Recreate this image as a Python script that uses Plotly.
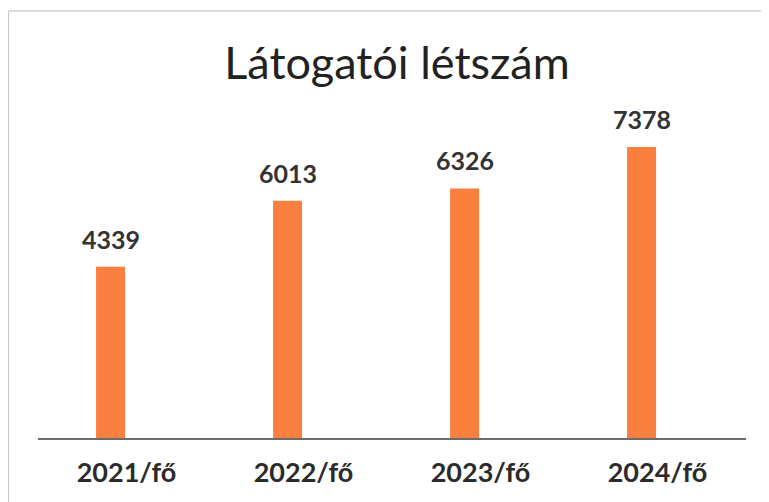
import plotly.graph_objects as go

categories = ["2021/fő", "2022/fő", "2023/fő", "2024/fő"]
values = [4339, 6013, 6326, 7378]
title_text = "Látogatói létszám"

# page body has an 8px margin, so figure coords are shifted by 8px
W, H = 769, 502
L, T = 30, 102
pw, ph = 708, 328
R = W - L - pw
B = H - T - ph

BAR_OFFSET, BAR_WIDTH = -0.172, 0.164
band_px = pw / len(categories)
label_shift = (BAR_OFFSET + BAR_WIDTH / 2) * band_px

fig = go.Figure(go.Bar(
    x=categories, y=values,
    marker=dict(color="#F9803F", line=dict(width=0)),
    width=BAR_WIDTH, offset=BAR_OFFSET,
    hoverinfo="x+y",
))

for c, v in zip(categories, values):
    fig.add_annotation(x=c, y=v, text=str(v), showarrow=False, yanchor="bottom",
                       xshift=label_shift, yshift=11,
                       font=dict(family="Lato", size=25, color="#333333", weight="bold"))

def px_x(x):
    return (x - L) / pw

def px_y(y):
    return (T + ph - y) / ph

fig.update_layout(
    width=W, height=H,
    margin=dict(l=L, r=R, t=T, b=B),
    paper_bgcolor="white", plot_bgcolor="white",
    title=dict(text=title_text, x=389 / W, xanchor="center", y=1 - 55 / H, yanchor="middle",
               font=dict(family="Lato", size=45, color="#222222")),
    showlegend=False,
    xaxis=dict(showgrid=False, showline=True, linecolor="#6b6b6b", linewidth=1.5,
               ticks="", tickfont=dict(family="Lato", size=27, color="#2b2b2b", weight="bold"),
               ticklabelstandoff=10),
    yaxis=dict(range=[0, 8316], visible=False),
    shapes=[
        dict(type="line", xref="paper", yref="paper", x0=px_x(0), x1=px_x(0), y0=px_y(3), y1=px_y(510),
             line=dict(color="#b5b5b5", width=1.5)),
        dict(type="line", xref="paper", yref="paper", x0=px_x(0), x1=px_x(769), y0=px_y(3), y1=px_y(3),
             line=dict(color="#cfcfcf", width=1.5)),
    ],
)

fig.write_html("out.html")
